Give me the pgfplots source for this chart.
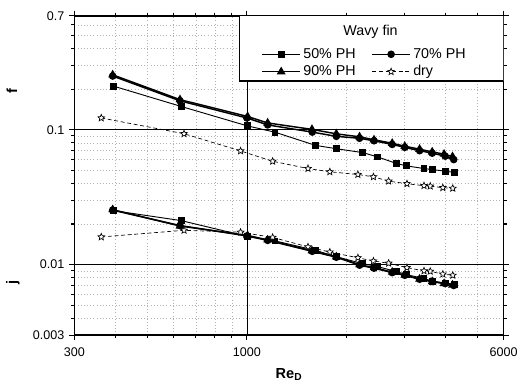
\documentclass[border=0pt]{standalone}
\usepackage{pgfplots}
\pgfplotsset{compat=1.18}
\usepackage{fontspec}
\setmainfont{Liberation Sans}
\pgfdeclareplotmark{ostar}{%
  \pgfpathmoveto{\pgfpointpolar{90}{\pgfplotmarksize}}%
  \pgfpathlineto{\pgfpointpolar{126}{0.45\pgfplotmarksize}}%
  \pgfpathlineto{\pgfpointpolar{162}{\pgfplotmarksize}}%
  \pgfpathlineto{\pgfpointpolar{198}{0.45\pgfplotmarksize}}%
  \pgfpathlineto{\pgfpointpolar{234}{\pgfplotmarksize}}%
  \pgfpathlineto{\pgfpointpolar{270}{0.45\pgfplotmarksize}}%
  \pgfpathlineto{\pgfpointpolar{306}{\pgfplotmarksize}}%
  \pgfpathlineto{\pgfpointpolar{342}{0.45\pgfplotmarksize}}%
  \pgfpathlineto{\pgfpointpolar{18}{\pgfplotmarksize}}%
  \pgfpathlineto{\pgfpointpolar{54}{0.45\pgfplotmarksize}}%
  \pgfpathclose\pgfusepathqfillstroke}
\begin{document}
\begin{tikzpicture}
\begin{axis}[name=ax,
  scale only axis, width=324.75pt, height=241.5pt,
  xmode=log, ymode=log,
  xmin=300, xmax=6000, ymin=0.003, ymax=0.7,
  xtick={300,1000,6000}, xticklabels={300,1000,6000},
  ytick={0.003,0.01,0.1,0.7}, yticklabels={0.003,0.01,0.1,0.7},
  minor xtick={400,500,600,700,800,900,2000,3000,4000,5000},
  minor ytick={0.004,0.005,0.006,0.007,0.008,0.009,0.02,0.03,0.04,0.05,0.06,0.07,0.08,0.09,0.2,0.3,0.4,0.5,0.6},
  tick align=outside, major tick length=4pt, minor tick length=2.5pt,
  tick style={black, line width=0.8pt},
  axis line style={line width=1pt},
  grid=both,
  major grid style={black, line width=0.5pt, solid},
  minor grid style={gray!60, line width=0.4pt, dotted},
  ticklabel style={font=\fontsize{9.5}{10}\selectfont},
  xticklabel style={yshift=-2pt},
  /pgf/number format/assume math mode=true,
  legend columns=2,
  legend style={at={(0.677,0.852)}, anchor=center, draw=none, fill=none,
    font=\fontsize{10.8}{12}\selectfont, row sep=0pt, inner sep=1pt,
    /tikz/column 2/.style={column sep=10pt}},
  legend cell align=left,
  legend image code/.code={\draw[mark repeat=2,mark phase=2] plot coordinates {(0cm,0cm) (0.5cm,0cm) (1cm,0cm)};},
]
\fill[white, draw=black, line width=0.8pt] (rel axis cs:0.385,0.796) rectangle (rel axis cs:1,1);
\node[font=\fontsize{10.8}{12}\selectfont] at (rel axis cs:0.69,0.95) {Wavy fin};
% f curves
\addplot[black, line width=0.7pt, mark=square*, mark size=2.2pt] coordinates {
(394,0.211) (632,0.149) (1002,0.107) (1216,0.0960) (1615,0.0766) (1867,0.0724) (2246,0.0677)
(2492,0.0629) (2842,0.0562) (3045,0.0540) (3442,0.0516) (3645,0.0507) (3997,0.0493) (4266,0.0482)};
\addlegendentry{50\% PH}
\addplot[black, line width=1.1pt, mark=*, mark size=2.3pt] coordinates {
(392,0.2504) (627,0.1640) (1000,0.1224) (1156,0.1087) (1578,0.0961) (1867,0.0894) (2195,0.0865)
(2428,0.0829) (2757,0.0779) (3010,0.0740) (3338,0.0700) (3645,0.0671) (3989,0.0638) (4236,0.0601)};
\addlegendentry{70\% PH}
\addplot[black, line width=1.1pt, mark=triangle*, mark size=2.8pt] coordinates {
(392,0.2556) (627,0.1674) (1005,0.1255) (1156,0.1124) (1575,0.1007) (1867,0.0933) (2195,0.0887)
(2428,0.0843) (2757,0.0795) (3010,0.0755) (3338,0.0718) (3645,0.0685) (3960,0.0660) (4200,0.0632)};
\addlegendentry{90\% PH}
\addplot[black, line width=0.5pt, densely dashed, mark=ostar, mark size=2.7pt, mark options={solid, fill=white}] coordinates {
(362,0.1224) (645,0.0935) (957,0.0697) (1197,0.0584) (1532,0.0516) (1784,0.0488) (2170,0.0466)
(2418,0.0448) (2689,0.0416) (3056,0.0398) (3442,0.0385) (3595,0.0382) (3926,0.0372) (4207,0.0368)};
\addlegendentry{dry}
% j curves
\addplot[forget plot, black, line width=0.7pt, mark=square*, mark size=2.2pt] coordinates {
(394,0.02513) (632,0.02121) (1002,0.01618) (1216,0.01499) (1615,0.01276) (1867,0.01143) (2246,0.01016)
(2492,0.00966) (2842,0.00887) (3045,0.00843) (3442,0.00788) (3645,0.00755) (3997,0.00730) (4266,0.00712)};
\addplot[forget plot, black, line width=1.1pt, mark=*, mark size=2.3pt] coordinates {
(392,0.02534) (627,0.01949) (1000,0.01632) (1156,0.01512) (1578,0.01255) (1867,0.01134) (2195,0.00990)
(2428,0.00941) (2757,0.00872) (3010,0.00833) (3338,0.00779) (3645,0.00749) (3989,0.00724) (4236,0.00700)};
\addplot[forget plot, black, line width=1.1pt, mark=triangle*, mark size=2.8pt] coordinates {
(392,0.02556) (627,0.01933) (1005,0.01646) (1156,0.01525) (1575,0.01266) (1867,0.01143) (2195,0.00999)
(2428,0.00949) (2757,0.00880) (3010,0.00836) (3338,0.00781) (3645,0.00749) (3960,0.00724) (4200,0.00706)};
\addplot[forget plot, black, line width=0.5pt, densely dashed, mark=ostar, mark size=2.7pt, mark options={solid, fill=white}] coordinates {
(362,0.01604) (645,0.01797) (957,0.01738) (1197,0.01591) (1532,0.01354) (1784,0.01238) (2170,0.01124)
(2418,0.01063) (2689,0.01024) (3056,0.00949) (3442,0.00898) (3595,0.00892) (3926,0.00850) (4207,0.00833)};
\end{axis}
\path[use as bounding box] ([shift={(-56.25pt,-42pt)}]ax.south west) rectangle ([shift={(10.5pt,12pt)}]ax.north east);
\node[rotate=90, font=\fontsize{11}{12}\selectfont\bfseries] at ([shift={(-47.25pt,184.5pt)}]ax.south west) {f};
\node[rotate=90, font=\fontsize{11}{12}\selectfont\bfseries] at ([shift={(-46.5pt,39.75pt)}]ax.south west) {j};
\node[font=\fontsize{11}{12}\selectfont\bfseries] at ([shift={(162.4pt,-30pt)}]ax.south west) {Re\textsubscript{D}};
\end{tikzpicture}
\end{document}
